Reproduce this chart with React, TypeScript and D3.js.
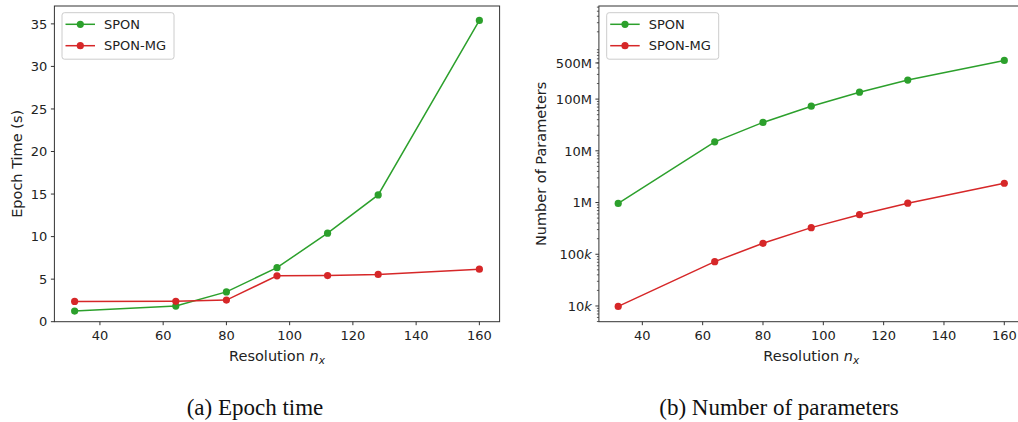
import React from "react";
import * as d3 from "d3";

// resolution n_x for every run
const resolutions = [32, 64, 80, 96, 112, 128, 160];
// epoch time (s)
const sponTime = [1.25, 1.84, 3.5, 6.35, 10.4, 14.9, 35.4];
const sponMgTime = [2.38, 2.4, 2.54, 5.39, 5.42, 5.55, 6.17];
// number of parameters
const sponParams = [9.6e5, 1.49e7, 3.54e7, 7.3e7, 1.36e8, 2.33e8, 5.6e8];
const sponMgParams = [9.8e3, 7.2e4, 1.63e5, 3.27e5, 5.83e5, 9.7e5, 2.36e6];

const xTicks = [40, 60, 80, 100, 120, 140, 160];
const timeTicks = [0, 5, 10, 15, 20, 25, 30, 35];
const paramTicks = [1e4, 1e5, 1e6, 1e7, 1e8, 5e8];
const paramNums = ["10", "100", "1M", "10M", "100M", "500M"];

const seriesNames = ["SPON", "SPON-MG"];
const colors = ["#2ca02c", "#d62728"];

const FONT = "DejaVu Sans, sans-serif";
const SERIF = "Liberation Serif, Times New Roman, serif";
const AXIS = "#333";
const LABEL_SIZE = 14.5;

function Legend({ x, y }: { x: number; y: number }) {
  return (
    <g transform={`translate(${x},${y})`}>
      <rect x={0} y={0} width={112} height={46.5} rx={2.5} fill="white" fillOpacity={0.8} stroke="#ccc" strokeWidth={1} />
      {seriesNames.map((n, i) => (
        <g key={n} transform={`translate(0,${11.6 + i * 21.4})`}>
          <line x1={3.5} x2={33} y1={0} y2={0} stroke={colors[i]} strokeWidth={1.5} />
          <circle cx={18.3} cy={0} r={3.6} fill={colors[i]} />
          <text x={42} y={4.6} fontSize={13} fontFamily={FONT} fill="#222">{n}</text>
        </g>
      ))}
    </g>
  );
}

function XAxisLabel({ cx, y }: { cx: number; y: number }) {
  return (
    <text x={cx} y={y} textAnchor="middle" fontSize={LABEL_SIZE} fontFamily={FONT} fill="#222">
      Resolution <tspan fontStyle="italic">n</tspan>
      <tspan fontStyle="italic" fontSize={10.5} dy={2.8}>x</tspan>
    </text>
  );
}

function TimeChart() {
  const x = d3.scaleLinear().domain([25.6, 166.4]).range([54.4, 499.6]);
  const y = d3.scaleLinear().domain([0, 37.1]).range([321.7, 6]);
  const series = [sponTime, sponMgTime];
  const line = d3.line<number>().x((_, i) => x(resolutions[i])).y((d) => y(d));
  const [x0, x1] = x.range();
  const [yb, yt] = y.range();
  return (
    <g>
      {series.map((s, k) => (
        <g key={k}>
          <path d={line(s) || ""} fill="none" stroke={colors[k]} strokeWidth={1.5} />
          {s.map((v, i) => (
            <circle key={i} cx={x(resolutions[i])} cy={y(v)} r={3.6} fill={colors[k]} />
          ))}
        </g>
      ))}
      <rect x={x0} y={yt} width={x1 - x0} height={yb - yt} fill="none" stroke={AXIS} strokeWidth={1} />
      {xTicks.map((t) => (
        <g key={t} transform={`translate(${x(t)},${yb})`}>
          <line y2={3.5} stroke={AXIS} />
          <text y={18.5} textAnchor="middle" fontSize={13} fontFamily={FONT} fill="#222">{t}</text>
        </g>
      ))}
      {timeTicks.map((t) => (
        <g key={t} transform={`translate(${x0},${y(t)})`}>
          <line x2={-3.5} stroke={AXIS} />
          <text x={-7} y={4.7} textAnchor="end" fontSize={13} fontFamily={FONT} fill="#222">{t}</text>
        </g>
      ))}
      <XAxisLabel cx={(x0 + x1) / 2} y={361} />
      <text transform={`translate(21.5,${(yb + yt) / 2}) rotate(-90)`} textAnchor="middle" fontSize={LABEL_SIZE} fontFamily={FONT} fill="#222">
        Epoch Time (s)
      </text>
      <Legend x={62} y={12.7} />
    </g>
  );
}

function ParamChart() {
  const x = d3.scaleLinear().domain([25.6, 166.4]).range([598.9, 1023.6]);
  const y = d3.scaleLog().domain([Math.pow(10, 3.696), Math.pow(10, 9.8)]).range([321.7, 6]);
  const series = [sponParams, sponMgParams];
  const line = d3.line<number>().x((_, i) => x(resolutions[i])).y((d) => y(d));
  const [x0, x1] = x.range();
  const [yb, yt] = y.range();
  const [dmin, dmax] = y.domain();
  const minor: number[] = [];
  for (let e = 3; e <= 9; e++) {
    for (let m = 2; m <= 9; m++) {
      const v = m * Math.pow(10, e);
      if (v >= dmin && v <= dmax) minor.push(v);
    }
  }
  return (
    <g>
      {series.map((s, k) => (
        <g key={k}>
          <path d={line(s) || ""} fill="none" stroke={colors[k]} strokeWidth={1.5} />
          {s.map((v, i) => (
            <circle key={i} cx={x(resolutions[i])} cy={y(v)} r={3.6} fill={colors[k]} />
          ))}
        </g>
      ))}
      <rect x={x0} y={yt} width={x1 - x0} height={yb - yt} fill="none" stroke={AXIS} strokeWidth={1} />
      {xTicks.map((t) => (
        <g key={t} transform={`translate(${x(t)},${yb})`}>
          <line y2={3.5} stroke={AXIS} />
          <text y={18.5} textAnchor="middle" fontSize={13} fontFamily={FONT} fill="#222">{t}</text>
        </g>
      ))}
      {minor.map((t) => (
        <line key={t} x1={x0} x2={x0 - 2} y1={y(t)} y2={y(t)} stroke={AXIS} strokeWidth={0.8} />
      ))}
      {paramTicks.map((t, i) => (
        <g key={t} transform={`translate(${x0},${y(t)})`}>
          <line x2={-3.5} stroke={AXIS} />
          <text x={-7} y={4.7} textAnchor="end" fontSize={13} fontFamily={FONT} fill="#222">
            {paramNums[i]}
            {t < 1e6 ? <tspan fontStyle="italic">k</tspan> : null}
          </text>
        </g>
      ))}
      <XAxisLabel cx={(x0 + x1) / 2} y={361} />
      <text transform={`translate(545.5,${(yb + yt) / 2}) rotate(-90)`} textAnchor="middle" fontSize={LABEL_SIZE} fontFamily={FONT} fill="#222">
        Number of Parameters
      </text>
      <Legend x={606.7} y={12.7} />
    </g>
  );
}

export default function App() {
  return (
    <svg width={1018} height={422} style={{ position: "absolute", left: 0, top: 0, background: "white" }}>
      <TimeChart />
      <ParamChart />
      <text x={255} y={415} textAnchor="middle" fontSize={23} fontFamily={SERIF} fill="#111">
        (a) Epoch time
      </text>
      <text x={779} y={415} textAnchor="middle" fontSize={23} fontFamily={SERIF} fill="#111">
        (b) Number of parameters
      </text>
    </svg>
  );
}
